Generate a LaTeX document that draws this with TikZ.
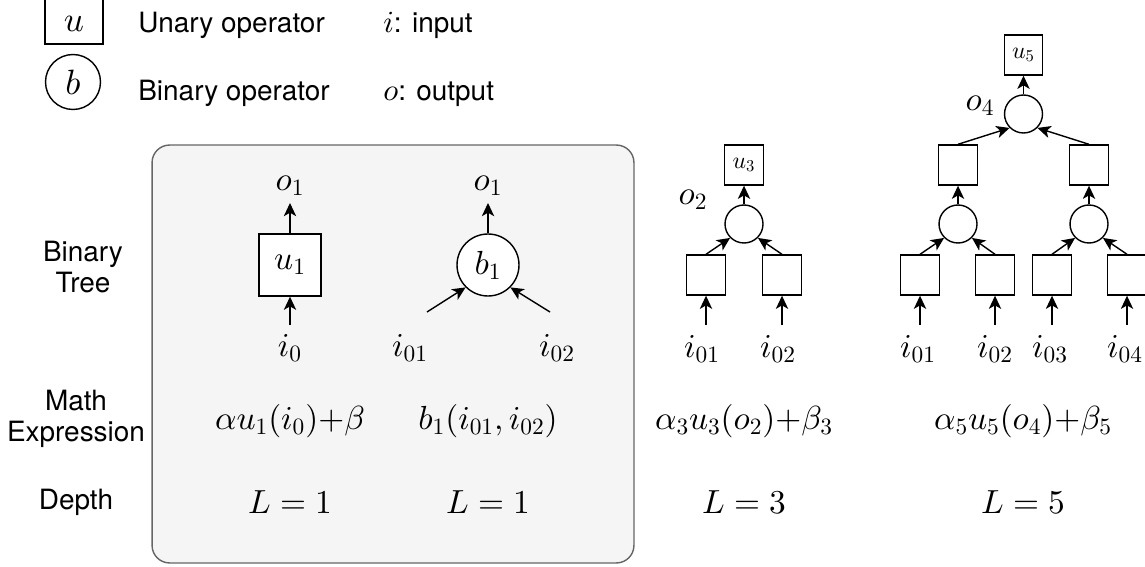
\documentclass[tikz,border=0pt]{standalone}
\usepackage[no-math]{fontspec}
\usepackage{amsmath}
\usepackage{xcolor}
\usepackage{tikz}
\usetikzlibrary{arrows.meta, positioning}

\newfontfamily\herosfont{TeX Gyre Heros}
% one design size for all math, as the figure's renderer does
\DeclareFontShape{OML}{cmm}{m}{it}{<->cmmi10}{\skewchar\font'177}
\DeclareFontShape{OT1}{cmr}{m}{n}{<->cmr10}{}
\DeclareFontShape{OMS}{cmsy}{m}{n}{<->cmsy10}{\skewchar\font'60}

\begin{document}
\begin{tikzpicture}[
    x=0.02cm, y=-0.02cm,
    txt/.style={font=\herosfont\fontsize{15.9}{17.8}\selectfont, inner sep=0pt, align=center},
    mth/.style={font=\fontsize{19}{22}\selectfont, inner sep=0pt},
    opbox/.style={draw, line width=0.8pt, fill=white, minimum width=1.24cm,
                  minimum height=1.24cm, inner sep=0pt, font=\fontsize{19}{22}\selectfont},
    opcirc/.style={draw, circle, line width=0.8pt, fill=white, minimum size=1.24cm,
                   inner sep=0pt, font=\fontsize{19}{22}\selectfont},
    smallbox/.style={draw, line width=0.8pt, fill=white, minimum width=0.77cm,
                     minimum height=0.8cm, inner sep=0pt, font=\fontsize{13.5}{15}\selectfont},
    smallcirc/.style={draw, circle, line width=0.8pt, fill=white, minimum size=0.76cm, inner sep=0pt},
    arrow/.style={-{Stealth[length=7.5pt, width=7pt, inset=2pt]}, line width=0.8pt},
    panel/.style={draw=black!60, fill=black!4, rounded corners=10pt, line width=0.8pt,
                  minimum width=9.64cm, minimum height=8.36cm}
]
    \useasboundingbox (0,0) rectangle (1145,567);

    % -- legend --
    \node[opbox, minimum width=1.16cm, minimum height=1.16cm,
          text height=0.916cm, text depth=0.244cm, font=\fontsize{20}{22}\selectfont] (legU) at (74,15) {$u$};
    \node[opcirc, minimum size=1.1cm, font=\fontsize{20}{22}\selectfont] (legB) at (73,82) {$b$};
    \node[txt, anchor=base west] (legUtxt) at (138,33) {Unary operator};
    \node[txt, anchor=base west] (legBtxt) at (138,101) {Binary operator};
    \node[txt, anchor=base west] (legI) at (383,33) {{\fontsize{17.5}{20}\selectfont$i$}: input};
    \node[txt, anchor=base west] (legO) at (383,101) {{\fontsize{17.5}{20}\selectfont$o$}: output};

    % -- row titles --
    \node[txt] (rowTree) at (83,267) {Binary\\Tree};
    \node[txt] (rowExpr) at (76,419) {Math\\Expression};
    \node[txt] (rowDepth) at (76,502) {Depth};

    % -- depth 1 panel --
    \node[panel] (panel) at (393,354) {};

    % unary operator
    \node[opbox] (u1) at (290,265) {$u_1$};
    \node[mth] (o1u) at (290,186) {$o_1$};
    \node[mth] (i0) at (290,348) {$i_0$};
    \coordinate (out1u) at (290,203);
    \coordinate (in1u) at (290,325);
    \draw[arrow] (u1) -- (out1u);
    \draw[arrow] (in1u) -- (u1);

    % binary operator
    \node[opcirc] (b1) at (488,265) {$b_1$};
    \node[mth] (o1b) at (488,186) {$o_1$};
    \node[mth] (i01b) at (410,348) {$i_{01}$};
    \node[mth] (i02b) at (557,348) {$i_{02}$};
    \coordinate (out1b) at (488,203);
    \coordinate (in1bA) at (427,312);
    \coordinate (in1bB) at (550,312);
    \draw[arrow] (b1) -- (out1b);
    \draw[arrow] (in1bA) -- (b1.south west);
    \draw[arrow] (in1bB) -- (b1.south east);

    % -- depth 3 tree --
    \node[smallbox] (u3) at (744,165) {$u_3$};
    \node[smallcirc] (c3) at (744,224) {};
    \node[smallbox] (l3a) at (706,275) {};
    \node[smallbox] (l3b) at (782,275) {};
    \node[mth] (o2) at (693,200) {$o_2$};
    \node[mth] (i01c) at (702,349) {$i_{01}$};
    \node[mth] (i02c) at (778,349) {$i_{02}$};
    \coordinate (in3a) at (706,325);
    \coordinate (in3b) at (782,325);
    \draw[arrow] (c3) -- (u3);
    \draw[arrow] (l3a.north) -- (c3.south west);
    \draw[arrow] (l3b.north) -- (c3.south east);
    \draw[arrow] (in3a) -- (l3a);
    \draw[arrow] (in3b) -- (l3b);

    % -- depth 5 tree --
    \node[smallbox] (u5) at (1023.5,55) {$u_5$};
    \node[smallcirc] (c5) at (1023.5,114) {};
    \node[smallbox] (m5a) at (958,165) {};
    \node[smallbox] (m5b) at (1089,165) {};
    \node[smallcirc] (c5a) at (958,224) {};
    \node[smallcirc] (c5b) at (1089,224) {};
    \node[smallbox] (l5a) at (920,275) {};
    \node[smallbox] (l5b) at (995,275) {};
    \node[smallbox] (l5c) at (1052,275) {};
    \node[smallbox] (l5d) at (1127,275) {};
    \node[mth] (o4) at (980,106) {$o_4$};
    \node[mth] (i01d) at (918,349) {$i_{01}$};
    \node[mth] (i02d) at (995,349) {$i_{02}$};
    \node[mth] (i03d) at (1050,349) {$i_{03}$};
    \node[mth] (i04d) at (1125,349) {$i_{04}$};
    \coordinate (in5a) at (920,325);
    \coordinate (in5b) at (995,325);
    \coordinate (in5c) at (1052,325);
    \coordinate (in5d) at (1127,325);
    \draw[arrow] (c5) -- (u5);
    \draw[arrow] (m5a.north) -- (c5.south west);
    \draw[arrow] (m5b.north) -- (c5.south east);
    \draw[arrow] (c5a) -- (m5a);
    \draw[arrow] (c5b) -- (m5b);
    \draw[arrow] (l5a.north) -- (c5a.south west);
    \draw[arrow] (l5b.north) -- (c5a.south east);
    \draw[arrow] (l5c.north) -- (c5b.south west);
    \draw[arrow] (l5d.north) -- (c5b.south east);
    \draw[arrow] (in5a) -- (l5a);
    \draw[arrow] (in5b) -- (l5b);
    \draw[arrow] (in5c) -- (l5c);
    \draw[arrow] (in5d) -- (l5d);

    % -- math expressions --
    \node[mth] (expr1) at (290,421) {$\alpha u_1(i_0){+}\beta$};
    \node[mth] (expr2) at (488,421) {$b_1(i_{01},i_{02})$};
    \node[mth] (expr3) at (744,421) {$\alpha_3u_3(o_2){+}\beta_3$};
    \node[mth] (expr4) at (1023,421) {$\alpha_5u_5(o_4){+}\beta_5$};

    % -- depths --
    \node[mth] (dep1) at (290,502) {$L=1$};
    \node[mth] (dep2) at (488,502) {$L=1$};
    \node[mth] (dep3) at (744,502) {$L=3$};
    \node[mth] (dep4) at (1023,502) {$L=5$};

\end{tikzpicture}
\end{document}
